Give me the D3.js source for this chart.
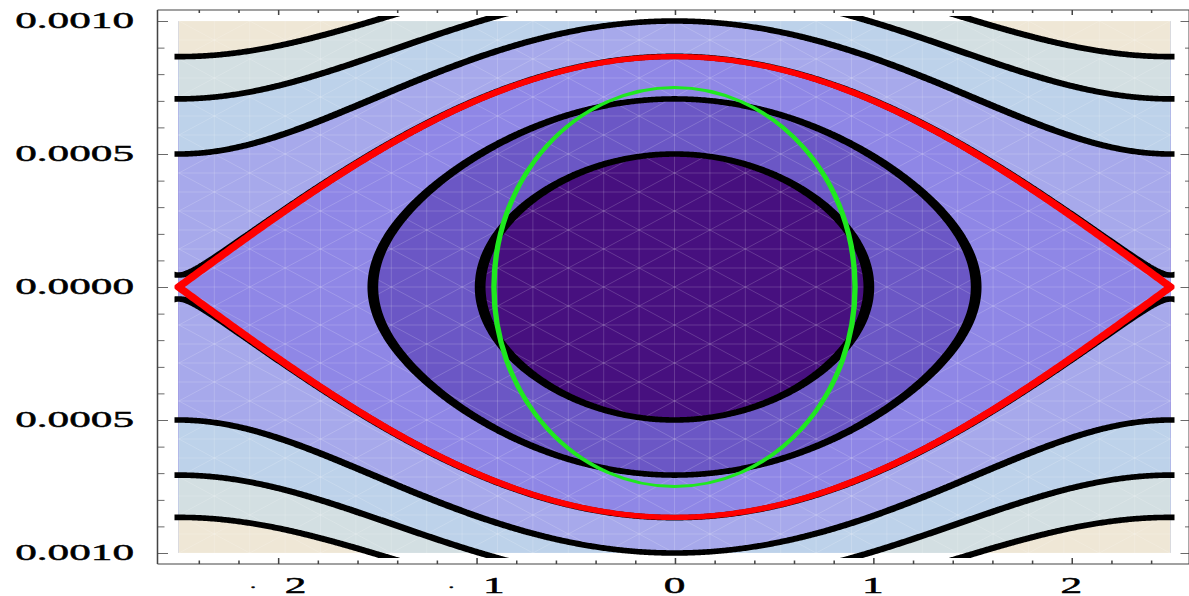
<!DOCTYPE html>
<html>
<head>
<meta charset="utf-8">
<script src="https://cdn.jsdelivr.net/npm/d3@7"></script>
<style>
  html, body { margin: 0; padding: 0; background: #ffffff; }
  svg { display: block; }
</style>
</head>
<body>
<svg id="chart" width="1189" height="596"></svg>
<script>
// Phase portrait of a pendulum-type Hamiltonian
//   H(x, p) = p^2 / 2 + A * (1 - cos(pi * x / L))
// filled by contour bands, with the separatrix in red and a reference ellipse in green.

const AMPLITUDE = 1.875e-7;      // A
const HALF_PERIOD = 2.5;         // L (saddle points at x = ±L)

const xDomain = [-2.5, 2.5];
const yDomain = [-0.001, 0.001];

// contour values of H (the third one is the separatrix, 2A)
const contourLevels = [1.25e-7, 2.5e-7, 3.75e-7, 5e-7, 6.25e-7, 7.5e-7];
const separatrixLevel = 3.75e-7;
// band fills, from the well bottom outwards
const bandColors = ["#47107f", "#6b57c5", "#8f87e6", "#a7a9eb", "#bdd2ea", "#d3dfe2", "#efe7d6"];

// green reference ellipse centred at the origin: [x radius, p radius]
const ellipseRadii = [0.91, 0.00075];

const xMajorTicks = [-2, -1, 0, 1, 2];
const xTickLabels = ["-2", "-1", "0", "1", "2"];
const xMinorTicks = [-2.4, -2.2, -1.8, -1.6, -1.4, -1.2, -0.8, -0.6, -0.4, -0.2,
                     0.2, 0.4, 0.6, 0.8, 1.2, 1.4, 1.6, 1.8, 2.2, 2.4];
const yMajorTicks = [0.001, 0.0005, 0, -0.0005, -0.001];
const yTickLabels = ["0.0010", "0.0005", "0.0000", "-0.0005", "-0.0010"];
const yMinorTicks = [0.0009, 0.0008, 0.0007, 0.0006, 0.0004, 0.0003, 0.0002, 0.0001,
                     -0.0001, -0.0002, -0.0003, -0.0004, -0.0006, -0.0007, -0.0008, -0.0009];

const hamiltonian = (x, p) => p * p / 2 + AMPLITUDE * (1 - Math.cos(Math.PI * x / HALF_PERIOD));

// ---------------------------------------------------------------------------
// The whole figure is laid out in a frame that is stretched horizontally,
// so strokes and glyphs come out wide.
const SX = 1.92;
const u = px => px / SX;

const svg = d3.select("#chart");
const defs = svg.append("defs");

const xScale = d3.scaleLinear().domain(xDomain).range([u(178.5), u(1170.5)]);
const yScale = d3.scaleLinear().domain(yDomain).range([553, 21]);

const plotLeft = xScale(xDomain[0]), plotRight = xScale(xDomain[1]);
const plotTop = yScale(yDomain[1]), plotBottom = yScale(yDomain[0]);

defs.append("clipPath").attr("id", "plot-clip")
  .append("rect")
  .attr("x", plotLeft).attr("y", plotTop)
  .attr("width", plotRight - plotLeft).attr("height", plotBottom - plotTop);

defs.append("clipPath").attr("id", "line-clip")
  .append("rect")
  .attr("x", plotLeft - u(4)).attr("y", plotTop - 5)
  .attr("width", plotRight - plotLeft + u(8)).attr("height", plotBottom - plotTop + 10);

defs.append("clipPath").attr("id", "mesh-clip")
  .append("rect")
  .attr("x", 178.5).attr("y", 21).attr("width", 992).attr("height", 532);

// ---------------------------------------------------------------------------
// Sample H on a grid slightly larger than the plot so contour rings close outside it.
const nx = 720, ny = 400;
const gx0 = -2.6, gx1 = 2.6, gy0 = -0.00112, gy1 = 0.00112;
const stepX = (gx1 - gx0) / (nx - 1), stepY = (gy1 - gy0) / (ny - 1);
const values = new Float64Array(nx * ny);
for (let j = 0; j < ny; ++j) {
  const p = gy1 - j * stepY;
  for (let i = 0; i < nx; ++i) {
    values[j * nx + i] = hamiltonian(gx0 + i * stepX, p);
  }
}

const gridToScreen = d3.geoTransform({
  point(gx, gy) {
    this.stream.point(xScale(gx0 + (gx - 0.5) * stepX), yScale(gy1 - (gy - 0.5) * stepY));
  }
});
const gridPath = d3.geoPath(gridToScreen);

// ---------------------------------------------------------------------------
// filled bands
const fillLayer = svg.append("g").attr("transform", `scale(${SX},1)`);
const bands = fillLayer.append("g").attr("clip-path", "url(#plot-clip)");

bands.append("rect")
  .attr("x", plotLeft).attr("y", plotTop)
  .attr("width", plotRight - plotLeft).attr("height", plotBottom - plotTop)
  .attr("fill", bandColors[0]);

const fillContours = d3.contours().size([nx, ny]).thresholds(contourLevels)(values);
bands.selectAll("path.band")
  .data(fillContours)
  .join("path")
  .attr("class", "band")
  .attr("d", gridPath)
  .attr("fill", (d, i) => bandColors[i + 1])
  .attr("stroke", (d, i) => bandColors[i + 1])
  .attr("stroke-width", 0.3);

// ---------------------------------------------------------------------------
// faint triangulation mesh over the bands
const mesh = svg.append("g")
  .attr("clip-path", "url(#mesh-clip)")
  .attr("stroke", "#ffffff")
  .attr("stroke-opacity", 0.17)
  .attr("stroke-width", 1)
  .attr("fill", "none");

const cx0 = 674.5, cy0 = 287, cellW = 70.8, cellH = 38;
const meshV = d3.range(-15, 16).map(k => cx0 + k * cellW / 2);
const meshH = d3.range(-15, 16).map(k => cy0 + k * cellH / 2);
mesh.selectAll("line.v").data(meshV).join("line").attr("class", "v")
  .attr("x1", d => d).attr("x2", d => d).attr("y1", 0).attr("y2", 596);
mesh.selectAll("line.h").data(meshH).join("line").attr("class", "h")
  .attr("x1", 0).attr("x2", 1189).attr("y1", d => d).attr("y2", d => d);
const diagN = d3.range(-24, 25);
const span = 20;
mesh.selectAll("line.d1").data(diagN).join("line").attr("class", "d1")
  .attr("x1", n => cx0 + (n - span) * cellW).attr("y1", cy0 + span * cellH)
  .attr("x2", n => cx0 + (n + span) * cellW).attr("y2", cy0 - span * cellH);
mesh.selectAll("line.d2").data(diagN).join("line").attr("class", "d2")
  .attr("x1", n => cx0 + (n - span) * cellW).attr("y1", cy0 - span * cellH)
  .attr("x2", n => cx0 + (n + span) * cellW).attr("y2", cy0 + span * cellH);

// ---------------------------------------------------------------------------
// contour lines, separatrix, ellipse, frame
const main = svg.append("g").attr("transform", `scale(${SX},1)`);
const lines = main.append("g").attr("clip-path", "url(#line-clip)");

// the line at the separatrix value is traced a hair outside it, so near the
// saddle points it peels away from the red curve on both sides
const lineLevels = contourLevels.map(v => v === separatrixLevel ? v * 1.0027 : v);
const lineContours = d3.contours().size([nx, ny]).thresholds(lineLevels)(values);
lines.selectAll("path.level")
  .data(lineContours)
  .join("path")
  .attr("class", "level")
  .attr("d", gridPath)
  .attr("fill", "none")
  .attr("stroke", "#000000")
  .attr("stroke-width", 5.6)
  .attr("stroke-linejoin", "round");

// separatrix: H = 2A, i.e. p = ±2·sqrt(A)·cos(pi·x / 2L)
const sepXs = d3.range(0, 501).map(i => xDomain[0] + i * (xDomain[1] - xDomain[0]) / 500);
const sepHalf = x => 2 * Math.sqrt(AMPLITUDE) * Math.cos(Math.PI * x / (2 * HALF_PERIOD));
const sepPoints = sepXs.map(x => [x, sepHalf(x)])
  .concat(sepXs.slice().reverse().map(x => [x, -sepHalf(x)]));
lines.append("path")
  .datum(sepPoints)
  .attr("d", d3.line().x(d => xScale(d[0])).y(d => yScale(d[1])).curve(d3.curveLinearClosed))
  .attr("fill", "none")
  .attr("stroke", "#ff0000")
  .attr("stroke-width", 5.4)
  .attr("stroke-linejoin", "miter")
  .attr("stroke-miterlimit", 10);

lines.append("ellipse")
  .attr("cx", xScale(0)).attr("cy", yScale(0))
  .attr("rx", xScale(ellipseRadii[0]) - xScale(0))
  .attr("ry", yScale(0) - yScale(ellipseRadii[1]))
  .attr("fill", "none")
  .attr("stroke", "#1fe81f")
  .attr("stroke-width", 2.8);

// frame
const frameLeft = u(157.5), frameRight = u(1189.5), frameTop = 10, frameBottom = 564;
const frameColor = "#444444";
const frame = main.append("g").attr("stroke", frameColor).attr("fill", "none");
frame.append("line").attr("x1", frameLeft).attr("x2", frameLeft).attr("y1", frameTop).attr("y2", frameBottom).attr("stroke-width", 0.8);
frame.append("line").attr("x1", frameLeft).attr("x2", frameRight).attr("y1", frameBottom).attr("y2", frameBottom);
frame.append("line").attr("x1", frameLeft).attr("x2", frameRight).attr("y1", frameTop).attr("y2", frameTop);
frame.append("line").attr("x1", frameRight).attr("x2", frameRight).attr("y1", frameTop).attr("y2", frameBottom);

function tickGroup(axis, tx, ty) {
  const g = main.append("g").attr("transform", `translate(${tx},${ty})`).call(axis);
  g.select(".domain").remove();
  g.selectAll("text").remove();
  g.selectAll("line").attr("stroke", frameColor).attr("stroke-width", 0.8);
  return g;
}

// bottom and top ticks (pointing into the plot)
tickGroup(d3.axisTop(xScale).tickValues(xMajorTicks).tickSize(6).tickSizeOuter(0), 0, frameBottom);
tickGroup(d3.axisTop(xScale).tickValues(xMinorTicks).tickSize(3.5).tickSizeOuter(0), 0, frameBottom);
tickGroup(d3.axisBottom(xScale).tickValues(xMajorTicks).tickSize(5).tickSizeOuter(0), 0, frameTop);
tickGroup(d3.axisBottom(xScale).tickValues(xMinorTicks).tickSize(3).tickSizeOuter(0), 0, frameTop);
// left and right ticks
tickGroup(d3.axisRight(yScale).tickValues(yMajorTicks).tickSize(u(10.5)).tickSizeOuter(0), frameLeft, 0);
tickGroup(d3.axisRight(yScale).tickValues(yMinorTicks).tickSize(u(7)).tickSizeOuter(0), frameLeft, 0);
tickGroup(d3.axisLeft(yScale).tickValues(yMajorTicks).tickSize(u(9)).tickSizeOuter(0), frameRight, 0);
tickGroup(d3.axisLeft(yScale).tickValues(yMinorTicks).tickSize(u(4.5)).tickSizeOuter(0), frameRight, 0);

// tick labels; the minus sign shows up as a small dot
const labelFont = "'Liberation Serif', 'Times New Roman', serif";
function writeLabel(sel, label) {
  if (label.startsWith("-")) {
    sel.append("tspan").attr("font-size", 12).attr("dy", -2).text("·");
    sel.append("tspan").attr("dx", 14.5).attr("dy", 2).text(label.slice(1));
  } else {
    sel.text(label);
  }
}

const labels = main.append("g")
  .attr("font-family", labelFont)
  .attr("font-weight", "normal")
  .attr("font-size", 22.5)
  .attr("fill", "#000000")
  .attr("stroke", "#000000")
  .attr("stroke-width", 0.45);

yMajorTicks.forEach((v, i) => {
  const t = labels.append("text")
    .attr("x", u(134)).attr("y", yScale(v) + 7.5)
    .attr("text-anchor", "end");
  writeLabel(t, yTickLabels[i]);
});

xMajorTicks.forEach((v, i) => {
  const t = labels.append("text")
    .attr("x", xScale(v)).attr("y", 593)
    .attr("text-anchor", "middle");
  writeLabel(t, xTickLabels[i]);
});
</script>
</body>
</html>
